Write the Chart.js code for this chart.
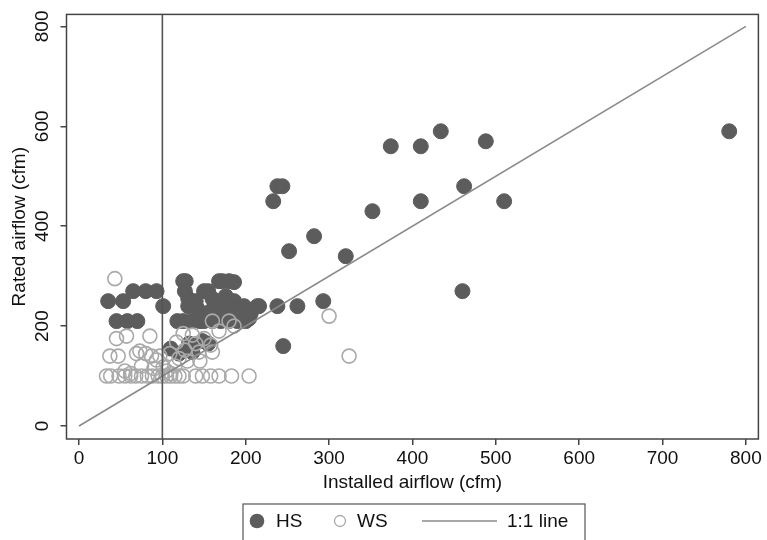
<!DOCTYPE html>
<html>
<head>
<meta charset="utf-8">
<script src="https://cdn.jsdelivr.net/npm/chart.js@4.4.1/dist/chart.umd.min.js"></script>
<style>
  html, body { margin: 0; background: #fff; }
  #wrap { width: 767px; height: 540px; position: relative; }
</style>
</head>
<body>
<div id="wrap"><canvas id="chart1"></canvas></div>
<script>
// HS units (filled)
const hsX = [35, 53, 65, 80, 93, 101, 45, 58, 70,
  125, 128, 127, 131, 131, 118, 125, 135, 145, 150, 160, 170, 180, 190, 200, 204,
  150, 155, 160, 168, 172, 180, 186, 176, 186, 198, 214, 206, 142, 170, 158, 190, 140, 145, 165, 180, 195, 202,
  216, 238, 262, 293, 245,
  110, 132, 148, 136, 155, 120,
  238, 244, 233, 252, 282, 320, 352, 374, 410, 410, 434, 462, 460, 488, 510, 780];
const hsY = [250, 250, 270, 270, 270, 240, 210, 210, 210,
  290, 290, 270, 255, 240, 210, 210, 210, 210, 210, 210, 210, 210, 210, 210, 215,
  270, 270, 255, 290, 290, 290, 288, 260, 250, 240, 240, 225, 235, 240, 230, 220, 250, 215, 240, 235, 230, 220,
  240, 240, 240, 250, 160,
  155, 165, 170, 148, 165, 145,
  480, 480, 450, 350, 380, 340, 430, 560, 560, 450, 590, 480, 270, 570, 450, 590];

// WS units (hollow)
const wsX = [43, 45, 57, 85, 37, 47, 73, 80, 87, 97, 69, 55, 62, 75, 90, 105, 110, 115, 101, 93,
  33, 38, 48, 55, 62, 68, 75, 82, 88, 95, 100, 105, 110, 115, 120, 125, 140, 148, 158, 168, 183, 204,
  160, 180, 186, 168, 125, 136, 117, 158, 160, 144, 127, 109, 150, 140, 130, 120, 145,
  300, 324];
const wsY = [295, 175, 180, 180, 140, 140, 150, 145, 140, 140, 145, 110, 105, 120, 115, 110, 105, 120, 118, 132,
  100, 100, 100, 100, 100, 100, 100, 100, 100, 100, 100, 100, 100, 100, 100, 100, 100, 100, 100, 100, 100, 100,
  210, 210, 200, 190, 185, 182, 168, 162, 148, 148, 152, 145, 175, 165, 130, 135, 130,
  220, 140];

const xTickValues = [0, 100, 200, 300, 400, 500, 600, 700, 800];
const yTickValues = [0, 200, 400, 600, 800];
const xRange = [-15, 815];
const yRange = [-26, 824];
const refX = 100;           // vertical reference line
const oneToOne = [0, 800];  // 1:1 line ends

const font19 = { family: '"Liberation Sans", Arial, sans-serif', size: 19 };
const inkColor = '#111';
const axisColor = '#444';
const hsColor = '#5c5c5c';
const wsColor = '#a9a9a9';
const lineColor = '#8a8a8a';

const canvas = document.getElementById('chart1');
const context = canvas.getContext('2d');

const decor = {
  id: 'decor',
  beforeDatasetsDraw(chart) {
    const { ctx, chartArea: a } = chart;
    ctx.save();
    ctx.strokeStyle = axisColor;
    ctx.lineWidth = 1.5;
    ctx.strokeRect(a.left, a.top, a.right - a.left, a.bottom - a.top);
    ctx.restore();
  },
  afterDraw(chart) {
    const { ctx, scales: { y } } = chart;
    const f = `${font19.size}px ${font19.family}`;
    ctx.save();
    // rotated y tick labels
    ctx.fillStyle = inkColor;
    ctx.font = f;
    ctx.textAlign = 'center';
    ctx.textBaseline = 'middle';
    y.ticks.forEach(t => {
      ctx.save();
      ctx.translate(43, y.getPixelForValue(t.value));
      ctx.rotate(-Math.PI / 2);
      ctx.fillText(String(t.value), 0, 0);
      ctx.restore();
    });

    // legend box
    const ds = chart.data.datasets;
    const ly = 521;
    ctx.fillStyle = '#fff';
    ctx.strokeStyle = '#555';
    ctx.lineWidth = 1.2;
    ctx.fillRect(243, 504, 342, 40);
    ctx.strokeRect(243, 504, 342, 40);

    ctx.beginPath();
    ctx.arc(257, ly, 7.3, 0, Math.PI * 2);
    ctx.fillStyle = hsColor;
    ctx.fill();

    ctx.beginPath();
    ctx.arc(340, ly, 5.5, 0, Math.PI * 2);
    ctx.strokeStyle = wsColor;
    ctx.lineWidth = 1.3;
    ctx.stroke();

    ctx.beginPath();
    ctx.moveTo(422, ly);
    ctx.lineTo(497, ly);
    ctx.strokeStyle = lineColor;
    ctx.lineWidth = 1.5;
    ctx.stroke();

    ctx.fillStyle = inkColor;
    ctx.textAlign = 'left';
    ctx.fillText(ds[0].label, 276, ly + 1);
    ctx.fillText(ds[1].label, 357, ly + 1);
    ctx.fillText(ds[3].label, 507, ly + 1);
    ctx.restore();
  }
};

const config = {
  type: 'scatter',
  data: {
    datasets: [
      {
        label: 'HS',
        data: hsX.map((x, i) => ({ x: x, y: hsY[i] })),
        backgroundColor: hsColor,
        borderColor: hsColor,
        borderWidth: 1,
        pointRadius: 7.5,
        order: 4
      },
      {
        label: 'WS',
        data: wsX.map((x, i) => ({ x: x, y: wsY[i] })),
        backgroundColor: 'rgba(0,0,0,0)',
        borderColor: wsColor,
        borderWidth: 1.6,
        pointRadius: 7,
        order: 3
      },
      {
        label: 'ref',
        data: [{ x: refX, y: yRange[0] }, { x: refX, y: yRange[1] }],
        showLine: true,
        borderColor: '#555',
        borderWidth: 1.6,
        pointRadius: 0,
        order: 1
      },
      {
        label: '1:1 line',
        data: oneToOne.map(v => ({ x: v, y: v })),
        showLine: true,
        borderColor: lineColor,
        borderWidth: 1.6,
        pointRadius: 0,
        order: 2
      }
    ]
  },
  options: {
    responsive: true,
    maintainAspectRatio: false,
    animation: false,
    layout: { padding: { left: 0, top: 13, right: 5, bottom: 40 } },
    plugins: { legend: { display: false }, tooltip: { enabled: false } },
    scales: {
      x: {
        type: 'linear',
        min: xRange[0],
        max: xRange[1],
        afterBuildTicks: s => { s.ticks = xTickValues.map(v => ({ value: v })); },
        afterFit: s => { s.height = 61; },
        border: { display: false },
        grid: { drawOnChartArea: false, drawTicks: true, tickLength: 6, color: axisColor, lineWidth: 1.5 },
        ticks: { font: font19, color: inkColor, padding: 2, maxRotation: 0, autoSkip: false },
        title: { display: true, text: 'Installed airflow (cfm)', font: font19, color: inkColor, padding: { top: 0, bottom: 6 } }
      },
      y: {
        type: 'linear',
        min: yRange[0],
        max: yRange[1],
        afterBuildTicks: s => { s.ticks = yTickValues.map(v => ({ value: v })); },
        afterFit: s => { s.width = 66.5; },
        border: { display: false },
        grid: { drawOnChartArea: false, drawTicks: true, tickLength: 6, color: axisColor, lineWidth: 1.5 },
        ticks: { font: font19, color: 'rgba(0,0,0,0)', autoSkip: false },
        title: { display: true, text: 'Rated airflow (cfm)', font: font19, color: inkColor, padding: { top: 8, bottom: 0 } }
      }
    }
  },
  plugins: [decor]
};

const myChart = new Chart(context, config);
</script>
</body>
</html>
